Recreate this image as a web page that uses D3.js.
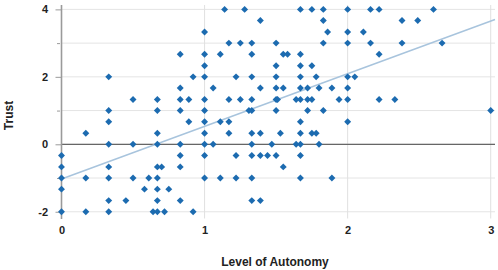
<!DOCTYPE html>
<html>
<head>
<meta charset="utf-8">
<script src="https://cdn.jsdelivr.net/npm/d3@7"></script>
<style>
  body { margin: 0; background: #fff; }
  text { font-family: "Liberation Sans", Arial, sans-serif; }
</style>
</head>
<body>
<div id="scatterplot"></div>
<script>
// Dati: ogni riga = un livello di Trust, con i valori di Autonomy
const trustLevels = [4, 3.67, 3.33, 3, 2.67, 2.33, 2, 1.67, 1.33, 1, 0.67, 0.33, 0, -0.33, -0.67, -1, -1.33, -1.67, -2];
const autonomyAtLevel = [
  [1.14, 1.28, 1.67, 1.75, 1.83, 2, 2.16, 2.22, 2.6],
  [1.39, 1.83, 2.38, 2.49],
  [1, 1.86, 2, 2.11],
  [1.17, 1.25, 1.33, 1.5, 1.83, 2, 2.16, 2.38, 2.66],
  [0.83, 1, 1.11, 1.33, 1.55, 1.58, 1.67, 2.22],
  [1, 1.5, 1.67, 1.75],
  [0.33, 0.92, 1, 1.22, 1.33, 1.5, 1.67, 1.78, 2, 2.05],
  [0.83, 1.06, 1.39, 1.5, 1.55, 1.67, 1.72, 1.8, 1.89, 2],
  [0.5, 0.67, 0.83, 0.89, 1, 1.17, 1.25, 1.33, 1.5, 1.51, 1.64, 1.67, 1.72, 1.75, 1.94, 2, 2.22, 2.33],
  [0.33, 0.67, 0.83, 1, 1.31, 1.33, 1.5, 1.72, 1.83, 3],
  [0.33, 0.89, 1, 1.11, 1.17, 1.67, 2],
  [0.17, 0.67, 1, 1.17, 1.33, 1.39, 1.53, 1.67, 1.75, 1.78],
  [0.33, 0.5, 0.67, 0.83, 1, 1.06, 1.33, 1.47, 1.64, 1.67, 1.8],
  [0, 0.83, 1, 1.22, 1.33, 1.39, 1.44, 1.5, 1.67],
  [0, 0.33, 0.67, 0.7, 0.83, 1.55],
  [0, 0.17, 0.33, 0.5, 0.61, 0.67, 1, 1.11, 1.22, 1.33, 1.67, 1.89],
  [0, 0.58, 0.67, 0.75],
  [0.33, 0.45, 0.67, 0.83, 1.33, 1.39],
  [0, 0.17, 0.33, 0.64, 0.67, 0.72, 0.92]
];
const xTicks = [0, 1, 2, 3];
const yTicks = [-2, -1, 0, 1, 2, 3, 4];
const trendLine = [[0, -1.03], [3.03, 3.7]];

const [width, height] = [498, 270];
const pointColor = '#1c6bb0';

const points = [];
trustLevels.forEach((t, i) => autonomyAtLevel[i].forEach((a) => points.push({ autonomy: a, trust: t })));

const svg = d3.select('#scatterplot')
  .append('svg')
  .attr('width', width)
  .attr('height', height);

const xScale = d3.scaleLinear().domain([0, 3.03]).range([61.5, 495]);
const yScale = d3.scaleLinear().domain([-2.2, 4.13]).range([218.5, 5]);

// griglia
svg.append('g').selectAll('line')
  .data(yTicks)
  .enter()
  .append('line')
  .attr('x1', xScale(0))
  .attr('x2', xScale.range()[1])
  .attr('y1', (d) => yScale(d))
  .attr('y2', (d) => yScale(d))
  .style('stroke', '#e4e4e4')
  .style('stroke-width', 1);

svg.append('g').selectAll('line')
  .data(xTicks.filter((d) => d > 0))
  .enter()
  .append('line')
  .attr('x1', (d) => xScale(d))
  .attr('x2', (d) => xScale(d))
  .attr('y1', yScale.range()[1])
  .attr('y2', yScale.range()[0])
  .style('stroke', '#e0e0e0')
  .style('stroke-width', 1);

// linea dello zero
svg.append('line')
  .attr('x1', xScale(0))
  .attr('x2', xScale.range()[1])
  .attr('y1', yScale(0))
  .attr('y2', yScale(0))
  .style('stroke', '#666')
  .style('stroke-width', 1.2);

// asse y
const yAxis = svg.append('g')
  .attr('transform', `translate(${xScale(0)},0)`)
  .call(d3.axisLeft(yScale)
    .tickValues(yTicks)
    .tickSize(6)
    .tickPadding(7.5)
    .tickFormat((d) => (d % 2 === 0 ? d : '')));
yAxis.select('.domain')
  .attr('d', `M0,${yScale.range()[1]}V${yScale.range()[0] + 0.5}`)
  .style('stroke', '#9a9a9a')
  .style('stroke-width', 1.6);
yAxis.selectAll('.tick line')
  .style('stroke', '#9a9a9a')
  .attr('x1', (d) => (d % 2 === 0 ? 0 : -1.5))
  .attr('x2', (d) => (d % 2 === 0 ? -6 : -4.5));
yAxis.selectAll('.tick text')
  .style('font-size', '11px')
  .style('font-weight', 'bold')
  .style('fill', '#222');

// asse x (solo etichette)
const xAxis = svg.append('g')
  .attr('transform', `translate(0,${yScale.range()[0]})`)
  .call(d3.axisBottom(xScale)
    .tickValues(xTicks)
    .tickFormat(d3.format('d'))
    .tickSize(0)
    .tickPadding(8));
xAxis.select('.domain').remove();
xAxis.selectAll('.tick text')
  .style('font-size', '11px')
  .style('font-weight', 'bold')
  .style('fill', '#222');

// retta di regressione
svg.append('path')
  .datum(trendLine)
  .attr('d', d3.line().x((d) => xScale(d[0])).y((d) => yScale(d[1])))
  .style('fill', 'none')
  .style('stroke', '#a8c4dd')
  .style('stroke-width', 1.5);

// punti
svg.append('g').selectAll('path')
  .data(points)
  .enter()
  .append('path')
  .attr('d', d3.symbol().type(d3.symbolSquare).size(24))
  .attr('transform', (d) => `translate(${xScale(d.autonomy)},${yScale(d.trust)}) rotate(45)`)
  .style('fill', pointColor);

// etichette
svg.append('text')
  .attr('x', 275)
  .attr('y', 266)
  .attr('text-anchor', 'middle')
  .style('font-size', '12px')
  .style('font-weight', 'bold')
  .style('fill', '#222')
  .text('Level of Autonomy');

svg.append('text')
  .attr('transform', 'translate(12.5,115.5) rotate(-90)')
  .attr('text-anchor', 'middle')
  .style('font-size', '12px')
  .style('font-weight', 'bold')
  .style('fill', '#222')
  .text('Trust');
</script>
</body>
</html>
